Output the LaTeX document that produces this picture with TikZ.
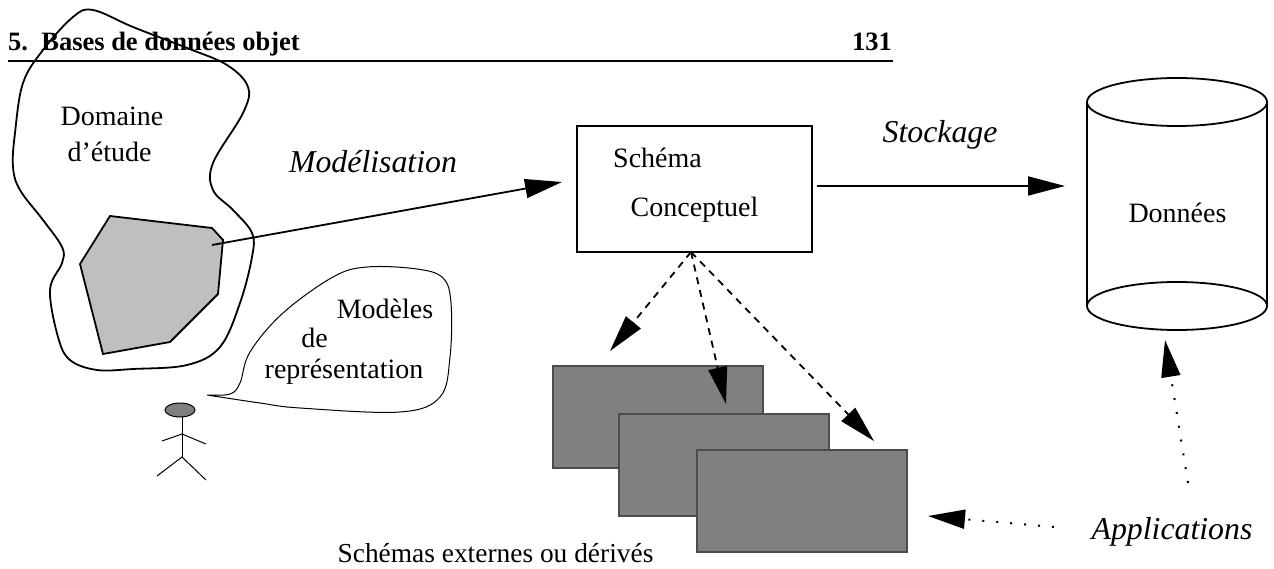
\documentclass[tikz,border=0pt]{standalone}
\usepackage{fontspec}
\setmainfont{Liberation Serif}
\usetikzlibrary{arrows.meta}
\tikzstyle{label} = [inner sep=0pt, anchor=base, font=\fontsize{28}{32}\selectfont]
\tikzstyle{itlabel} = [inner sep=0pt, anchor=base, font=\fontsize{31.8}{36}\selectfont\itshape]
\tikzstyle{head} = [inner sep=0pt, anchor=base, font=\fontsize{26.5}{30}\selectfont\bfseries]
\tikzstyle{schemabox} = [rectangle, draw, line width=1.8pt, minimum width=235pt, minimum height=126pt, inner sep=0pt]
\tikzstyle{derived} = [rectangle, draw=black!70, line width=1.2pt, fill=black!50, minimum width=210pt, minimum height=102pt, inner sep=0pt]
\tikzstyle{arrow} = [line width=1.8pt, -{Triangle[length=37pt,width=19pt]}]
\tikzstyle{dasharrow} = [line width=1.8pt, dash pattern=on 7pt off 6pt, -{Triangle[length=37pt,width=19pt]}]
\tikzstyle{dotarrow} = [line width=2pt, dash pattern=on 2pt off 12pt, -{Triangle[length=37pt,width=19pt]}]
\tikzstyle{outline} = [line width=1.8pt]
\tikzstyle{thinline} = [line width=1pt]
\begin{document}
\begin{tikzpicture}[x=1pt,y=-1pt]
            \useasboundingbox (0,0) rectangle (1274,569);

            \node [head, anchor=base west] at (8,50.5) (title) {5.\ \ Bases de données objet};
            \node [head, anchor=base east] at (892,50.5) (page) {131};
            \draw [line width=1.8pt] (8,61) -- (893,61);

            \draw [outline] plot [smooth cycle, tension=0.6] coordinates {(93,10) (133,27) (187,48) (227,65) (248,87) (243,113) (213,163) (213,190) (233,210) (252,233) (252,257) (240,303) (220,347) (187,365) (133,369) (97,370) (70,360) (58,337) (50,290) (62,263) (62,247) (43,220) (20,190) (13,167) (15,133) (23,83) (43,50) (73,17)};
            \draw [outline, fill=black!25] (110,216) -- (212,228) -- (223,240) -- (218,294) -- (170,342) -- (103,354) -- (80,264) -- cycle;

            \draw [thinline] plot [smooth, tension=0.6] coordinates {(207,395) (230,394) (240,383) (250,352) (283,313) (333,277) (367,267) (417,269) (443,278) (451,303) (450,357) (440,397) (400,412) (300,408) (260,403) (207,395)};

            \draw [thinline, fill=black!50] (180,410) ellipse (15 and 7);
            \draw [thinline] (182,417) -- (182,457);
            \draw [thinline] (162,441) -- (182,434) -- (206,444);
            \draw [thinline] (157,476) -- (182,457) -- (206,480);

            \node [label] at (112,126) (domaine) {Domaine};
            \node [label] at (109.5,162) (etude) {d’étude};
            \node [label] at (385,318) (modeles) {Modèles};
            \node [label] at (314.5,347) (de) {de};
            \node [label] at (344,378) (repres) {représentation};
            \node [itlabel] at (373,173) (modelisation) {Modélisation};
            \node [itlabel] at (940,143) (stockage) {Stockage};

            \node [schemabox] at (694.5,189) (schema) {};
            \node [label] at (657.5,168) (schema1) {Schéma};
            \node [label] at (694.5,217) (schema2) {Conceptuel};

            \draw [outline] (1087,102) -- (1087,306);
            \draw [outline] (1267,102) -- (1267,306);
            \draw [outline] (1177,102) ellipse (90 and 24);
            \draw [outline] (1177,306) ellipse (90 and 24);
            \node [label] at (1177.5,223) (donnees) {Données};

            \node [derived] at (658,417) (ext1) {};
            \node [derived] at (724,465) (ext2) {};
            \node [derived] at (802,501) (ext3) {};
            \node [label, font=\fontsize{27.4}{32}\selectfont] at (495.5,562) (externes) {Schémas externes ou dérivés};
            \node [itlabel] at (1172,539) (applications) {Applications};

            \coordinate (polyin) at (212,245);
            \coordinate (modtip) at (562,182);
            \coordinate (stockstart) at (817,186);
            \coordinate (stocktip) at (1065,186);
            \coordinate (schemabot) at (691,252);
            \coordinate (tipa) at (610,351);
            \coordinate (tipb) at (726,404);
            \coordinate (tipc) at (874,441);
            \coordinate (appup) at (1188,483);
            \coordinate (cyltip) at (1165,340);
            \coordinate (appleft) at (1054,527);
            \coordinate (exttip) at (928,516);

            \draw [arrow] (polyin) -- (modtip);
            \draw [arrow] (stockstart) -- (stocktip);
            \draw [dasharrow] (schemabot) -- (tipa);
            \draw [dasharrow] (schemabot) -- (tipb);
            \draw [dasharrow] (schemabot) -- (tipc);
            \draw [dotarrow] (appup) -- (cyltip);
            \draw [dotarrow] (appleft) -- (exttip);
            \end{tikzpicture}
\end{document}
